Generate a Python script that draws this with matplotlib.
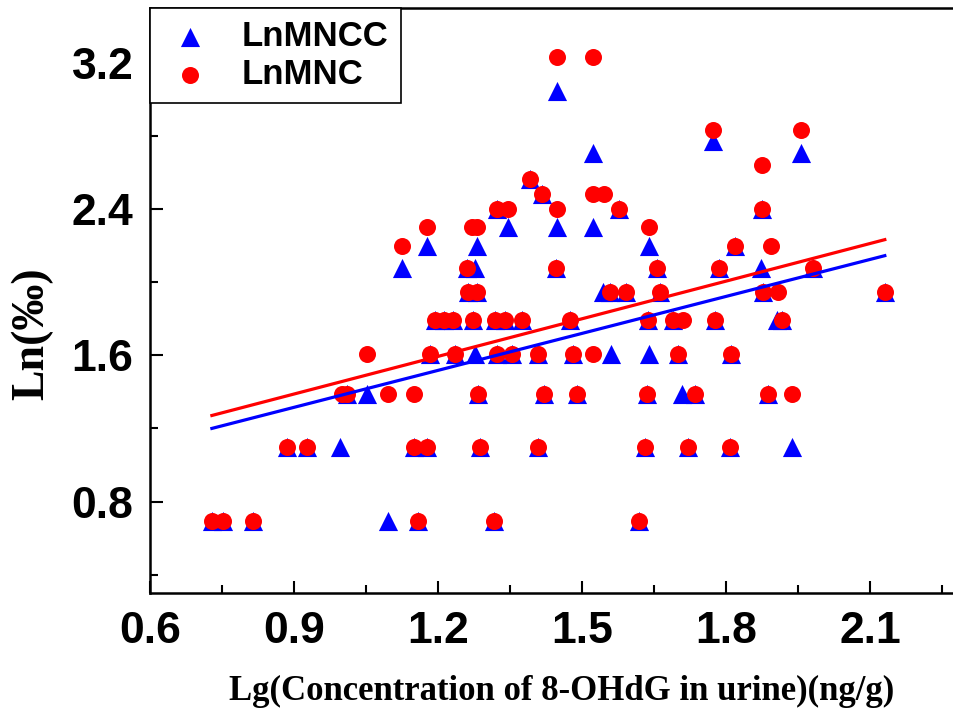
import matplotlib
matplotlib.use("Agg")
import matplotlib.pyplot as plt
import numpy as np
from matplotlib.ticker import MultipleLocator

# ---------------- data ----------------
# LnMNCC (blue triangles)
mncc_x = [0.729, 0.752, 0.815, 1.096, 1.158, 1.317, 1.619,
          0.885, 0.927, 0.996, 1.150, 1.177, 1.288, 1.408, 1.631, 1.721, 1.808, 1.938,
          1.010, 1.052, 1.283, 1.421, 1.490, 1.635, 1.708, 1.735, 1.888,
          1.183, 1.235, 1.277, 1.323, 1.354, 1.408, 1.481, 1.560, 1.640, 1.700, 1.810,
          1.194, 1.213, 1.231, 1.273, 1.319, 1.340, 1.375, 1.475, 1.638, 1.690, 1.777, 1.906, 1.917,
          1.263, 1.281, 1.544, 1.558, 1.592, 1.663, 1.877, 2.131,
          1.125, 1.260, 1.277, 1.446, 1.656, 1.785, 1.873, 1.981,
          1.177, 1.281, 1.640, 1.819,
          1.346, 1.448, 1.523,
          1.323, 1.577, 1.875,
          1.417,
          1.392,
          1.523, 1.956,
          1.773,
          1.448]
mncc_y = [0.693] * 7 + [1.099] * 11 + [1.386] * 9 + [1.609] * 11 + [1.792] * 13 + \
         [1.946] * 8 + [2.079] * 8 + [2.197] * 4 + [2.303] * 3 + [2.398] * 3 + \
         [2.485] * 1 + [2.565] * 1 + [2.708] * 2 + [2.773] * 1 + [3.045] * 1

# LnMNC (red circles)
mnc_x = [0.729, 0.752, 0.815, 1.158, 1.317, 1.619,
         0.885, 0.927, 1.150, 1.177, 1.288, 1.408, 1.631, 1.721, 1.808,
         1.000, 1.010, 1.096, 1.150, 1.283, 1.421, 1.490, 1.635, 1.735, 1.888, 1.938,
         1.052, 1.183, 1.235, 1.323, 1.354, 1.408, 1.481, 1.523, 1.700, 1.810,
         1.194, 1.213, 1.231, 1.273, 1.319, 1.340, 1.375, 1.475, 1.638, 1.690, 1.710, 1.777, 1.917,
         1.263, 1.281, 1.558, 1.592, 1.663, 1.877, 1.908, 2.131,
         1.260, 1.446, 1.656, 1.785, 1.981,
         1.125, 1.819, 1.894,
         1.177, 1.271, 1.281, 1.640,
         1.323, 1.346, 1.448, 1.577, 1.875,
         1.417, 1.523, 1.546,
         1.392,
         1.875,
         1.773, 1.956,
         1.448, 1.523]
mnc_y = [0.693] * 6 + [1.099] * 9 + [1.386] * 11 + [1.609] * 10 + [1.792] * 13 + \
        [1.946] * 8 + [2.079] * 5 + [2.197] * 3 + [2.303] * 4 + [2.398] * 5 + \
        [2.485] * 3 + [2.565] * 1 + [2.639] * 1 + [2.833] * 2 + [3.23] * 2

# fitted lines: (slope, intercept)
mncc_fit = (0.674, 0.709)
mnc_fit = (0.686, 0.771)

series_names = ["LnMNCC", "LnMNC"]
x_label = "Lg(Concentration of 8-OHdG in urine)(ng/g)"
y_label = "Ln(‰)"
x_ticks = [0.6, 0.9, 1.2, 1.5, 1.8, 2.1]
y_ticks = [0.8, 1.6, 2.4, 3.2]

# ---------------- plot ----------------
fig = plt.figure(figsize=(9.54, 7.19), dpi=100)
ax = fig.add_axes([0.1572, 0.1752, 0.8553, 0.8137])

ax.scatter(mncc_x, mncc_y, marker="^", s=190, color="#0000FF", linewidths=0,
           label=series_names[0], zorder=3)
ax.scatter(mnc_x, mnc_y, marker="o", s=150, color="#FF0000", linewidths=0,
           label=series_names[1], zorder=4)

for xs, fit, col in [(mncc_x, mncc_fit, "#0000FF"), (mnc_x, mnc_fit, "#FF0000")]:
    xl = np.array([min(xs), max(xs)])
    ax.plot(xl, fit[0] * xl + fit[1], color=col, lw=2.3, zorder=5)

ax.set_xlim(0.6, 2.3)
ax.set_ylim(0.3, 3.5)
ax.xaxis.set_minor_locator(MultipleLocator(0.15))
ax.yaxis.set_minor_locator(MultipleLocator(0.4))
ax.set_xticks(x_ticks)
ax.set_xticklabels([f"{v:.1f}" for v in x_ticks])
ax.set_yticks(y_ticks)
ax.set_yticklabels([f"{v:.1f}" for v in y_ticks])

ax.tick_params(which="both", direction="in", width=1.5, top=False, right=False)
ax.tick_params(which="major", length=9)
ax.tick_params(which="minor", length=6)
ax.tick_params(axis="x", which="major", pad=13)
ax.tick_params(axis="y", which="major", pad=12)
for lab in ax.get_xticklabels() + ax.get_yticklabels():
    lab.set_fontfamily("Liberation Sans")
    lab.set_fontweight("bold")
    lab.set_fontsize(32)

for sp in ax.spines.values():
    sp.set_linewidth(1.8)

ax.set_xlabel(x_label, fontfamily="Liberation Serif", fontweight="bold", fontsize=25)
ax.xaxis.set_label_coords(0.505, -0.14)
ax.set_ylabel(y_label, fontfamily="Liberation Serif", fontweight="bold", fontsize=33)
ax.yaxis.set_label_coords(-0.118, 0.444)

leg = ax.legend(loc="upper left", bbox_to_anchor=(0, 1), borderaxespad=0,
                fancybox=False, edgecolor="black", framealpha=1,
                prop={"family": "Liberation Sans", "weight": "bold", "size": 25},
                handletextpad=0.7, borderpad=0.35, labelspacing=0.15,
                handlelength=1.6, markerscale=1.0)
leg.get_frame().set_linewidth(1.2)

fig.savefig("out.png", dpi=100)
